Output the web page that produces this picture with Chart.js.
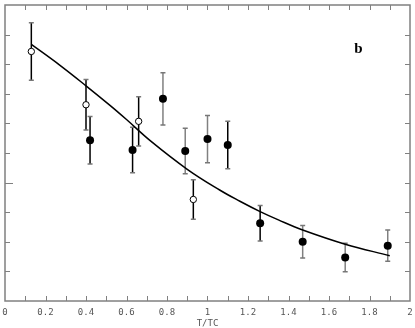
<!DOCTYPE html>
<html>
<head>
<meta charset="utf-8">
<script src="https://cdn.jsdelivr.net/npm/chart.js@4.4.0/dist/chart.umd.min.js"></script>
<style>
  html, body { margin: 0; padding: 0; background: #fff; }
  #wrap { width: 415px; height: 328px; position: relative; }
</style>
</head>
<body>
<div id="wrap"><canvas id="fig"></canvas></div>
<script>
// open symbols
const openX = [0.13, 0.40, 0.66, 0.93];
const openY = [8.43, 6.63, 6.07, 3.43];
const openErr = [0.97, 0.85, 0.83, 0.67];

// filled symbols
const fullX = [0.42, 0.63, 0.78, 0.89, 1.00, 1.10, 1.26, 1.47, 1.68, 1.89];
const fullY = [5.43, 5.10, 6.83, 5.07, 5.47, 5.27, 2.63, 2.00, 1.47, 1.87];
const fullErr = [0.80, 0.77, 0.88, 0.77, 0.80, 0.80, 0.60, 0.55, 0.48, 0.53];

// fitted curve
const fitX = [0.13, 0.27, 0.40, 0.52, 0.60, 0.72, 0.90, 1.06, 1.16, 1.26, 1.35, 1.47, 1.68, 1.90];
const fitY = [8.67, 7.97, 7.27, 6.60, 6.13, 5.40, 4.45, 3.75, 3.37, 3.02, 2.74, 2.40, 1.92, 1.53];

const xTicks = [0, 0.2, 0.4, 0.6, 0.8, 1, 1.2, 1.4, 1.6, 1.8, 2];

// error bar colour for each filled point (grey ones in the original)
const fullBarGrey = [false, false, true, true, true, false, false, true, true, true];

function pts(xs, ys) {
  return xs.map(function(x, i) { return { x: x, y: ys[i] }; });
}

const frame = {
  id: 'frame',
  beforeDatasetsDraw: function(chart) {
    const ctx = chart.ctx;
    const xs = chart.scales.x, ys = chart.scales.y;
    ctx.save();
    ctx.lineWidth = 1.5;
    function bar(x, y, e, col) {
      const px = xs.getPixelForValue(x);
      const top = ys.getPixelForValue(y + e), bot = ys.getPixelForValue(y - e);
      ctx.strokeStyle = col;
      ctx.beginPath();
      ctx.moveTo(px, top); ctx.lineTo(px, bot);
      ctx.stroke();
      ctx.strokeStyle = '#777';
      ctx.beginPath();
      ctx.moveTo(px - 2.5, top); ctx.lineTo(px + 2.5, top);
      ctx.moveTo(px - 2.5, bot); ctx.lineTo(px + 2.5, bot);
      ctx.stroke();
    }
    openX.forEach(function(x, i) { bar(x, openY[i], openErr[i], '#000'); });
    fullX.forEach(function(x, i) { bar(x, fullY[i], fullErr[i], fullBarGrey[i] ? '#808080' : '#000'); });
    ctx.restore();
  },
  afterDraw: function(chart) {
    const ctx = chart.ctx;
    const a = chart.chartArea;
    const xs = chart.scales.x, ys = chart.scales.y;
    ctx.save();
    ctx.strokeStyle = '#808080';
    ctx.lineWidth = 1.5;
    ctx.strokeRect(a.left, a.top, a.right - a.left, a.bottom - a.top);
    ctx.lineWidth = 1;
    ctx.beginPath();
    for (let v = 0.1; v < 2; v += 0.1) {
      const px = Math.round(xs.getPixelForValue(v)) + 0.5;
      ctx.moveTo(px, a.bottom); ctx.lineTo(px, a.bottom - 5);
      ctx.moveTo(px, a.top); ctx.lineTo(px, a.top + 5);
    }
    for (let v = 1; v < 10; v++) {
      const py = Math.round(ys.getPixelForValue(v)) + 0.5;
      const len = v === 4 ? 8 : 5;
      ctx.moveTo(a.left, py); ctx.lineTo(a.left + len, py);
      ctx.moveTo(a.right, py); ctx.lineTo(a.right - 5, py);
    }
    ctx.stroke();
    // panel letter
    ctx.fillStyle = '#000';
    ctx.font = 'bold 15px "Liberation Serif"';
    ctx.textAlign = 'center';
    ctx.textBaseline = 'middle';
    ctx.fillText('b', xs.getPixelForValue(1.745), ys.getPixelForValue(8.5));
    ctx.restore();
  }
};

new Chart(document.getElementById('fig'), {
  type: 'scatter',
  data: {
    datasets: [
      {
        type: 'line',
        data: pts(fitX, fitY),
        borderColor: '#000',
        borderWidth: 1.5,
        pointRadius: 0,
        tension: 0.4,
        fill: false
      },
      {
        data: pts(fullX, fullY),
        pointStyle: 'circle',
        pointRadius: 4,
        backgroundColor: '#000',
        borderColor: '#000',
        borderWidth: 0
      },
      {
        data: pts(openX, openY),
        pointStyle: 'circle',
        pointRadius: 3.2,
        backgroundColor: '#fff',
        borderColor: '#000',
        borderWidth: 1
      }
    ]
  },
  options: {
    responsive: true,
    maintainAspectRatio: false,
    animation: false,
    layout: { padding: { left: 3, right: 3, top: 1, bottom: 0 } },
    plugins: { legend: { display: false }, tooltip: { enabled: false } },
    scales: {
      x: {
        type: 'linear',
        min: 0,
        max: 2,
        afterBuildTicks: function(s) { s.ticks = xTicks.map(function(v) { return { value: v }; }); },
        afterFit: function(s) { s.height = 27; s.paddingLeft = 0; s.paddingRight = 0; },
        grid: { display: false, drawTicks: false },
        border: { display: false },
        ticks: {
          padding: 7,
          maxRotation: 0,
          autoSkip: false,
          color: '#555',
          font: { family: '"DejaVu Sans Mono"', size: 9, lineHeight: 1 },
          callback: function(v) { return String(v); }
        },
        title: {
          display: true,
          text: 'T/TC',
          color: '#555',
          padding: { top: 0, bottom: 0 },
          font: { family: '"DejaVu Sans Mono"', size: 9, lineHeight: 1 }
        }
      },
      y: {
        min: 0,
        max: 10,
        display: false
      }
    }
  },
  plugins: [frame]
});
</script>
</body>
</html>
